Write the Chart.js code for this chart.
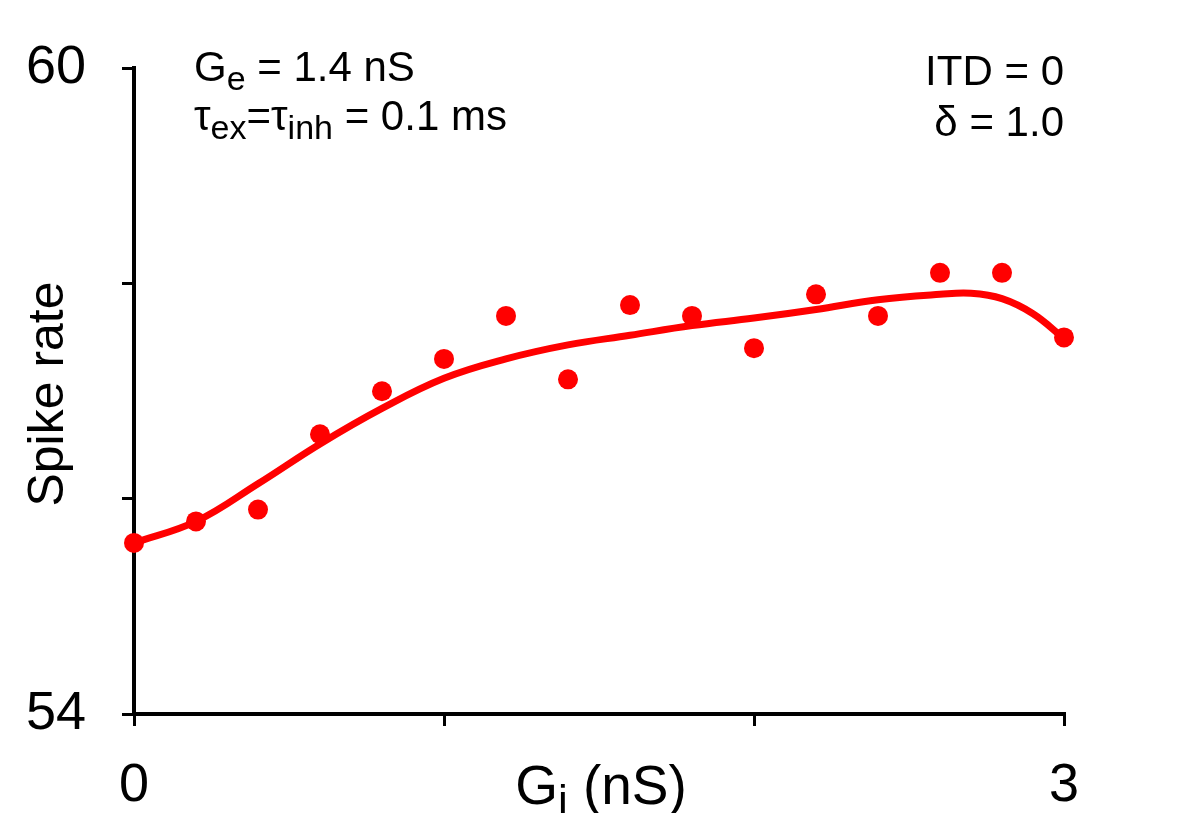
<!DOCTYPE html>
<html>
<head>
<meta charset="utf-8">
<script src="https://cdn.jsdelivr.net/npm/chart.js@4/dist/chart.umd.min.js"></script>
<style>
  html, body { margin: 0; padding: 0; background: #fff; }
  canvas { display: block; }
</style>
</head>
<body>
<canvas id="chart" width="1191" height="813"></canvas>
<script>
// simulated spike rate vs inhibitory conductance
const giValues = [0, 0.2, 0.4, 0.6, 0.8, 1.0, 1.2, 1.4, 1.6, 1.8, 2.0, 2.2, 2.4, 2.6, 2.8, 3.0];
const spikeRates = [55.59, 55.79, 55.90, 56.60, 57.00, 57.30, 57.70, 57.11, 57.80, 57.70, 57.40, 57.90, 57.70, 58.10, 58.10, 57.50];

// smooth fit curve
const fitGi = [0, 0.2, 0.4, 0.6, 0.8, 1.0, 1.2, 1.4, 1.6, 1.8, 2.0, 2.2, 2.4, 2.6, 2.7, 2.8, 2.9, 3.0];
const fitRates = [55.59, 55.79, 56.14, 56.51, 56.84, 57.12, 57.30, 57.43, 57.52, 57.61, 57.68, 57.76, 57.85, 57.90, 57.91, 57.86, 57.72, 57.49];

const xTickLabels = { 0: "0", 3: "3" };
const yTickLabels = { 54: "54", 60: "60" };

const FONT = "'Liberation Sans', Arial, sans-serif";
const RED = "#ff0000";

// draw a line of text made of [text, isSub] runs
function drawRuns(ctx, runs, x, y, size, align) {
  const subSize = Math.round(size * 0.8);
  let total = 0;
  const widths = runs.map(([t, sub]) => {
    ctx.font = (sub ? subSize : size) + "px " + FONT;
    const w = ctx.measureText(t).width;
    total += w;
    return w;
  });
  let cx = align === "right" ? x - total : align === "center" ? x - total / 2 : x;
  runs.forEach(([t, sub], i) => {
    ctx.font = (sub ? subSize : size) + "px " + FONT;
    ctx.fillText(t, cx, sub ? y + size * 0.22 : y);
    cx += widths[i];
  });
}

const labelsPlugin = {
  id: "labels",
  afterDraw(chart) {
    const ctx = chart.ctx;
    const area = chart.chartArea;
    ctx.save();
    ctx.fillStyle = "#000";
    ctx.textBaseline = "alphabetic";

    drawRuns(ctx, [["G", false], ["e", true], [" = 1.4 nS", false]], 194, 81, 42, "left");
    drawRuns(ctx, [["\u03c4", false], ["ex", true], ["=\u03c4", false], ["inh", true], [" = 0.1 ms", false]], 194, 130, 42, "left");
    drawRuns(ctx, [["ITD = 0", false]], area.right, 85, 42, "right");
    drawRuns(ctx, [["\u03b4 = 1.0", false]], area.right, 136, 42, "right");

    // x axis title
    drawRuns(ctx, [["G", false], ["i", true], [" (nS)", false]], 601, 804, 55, "center");

    // y axis title
    ctx.translate(63, 394);
    ctx.rotate(-Math.PI / 2);
    drawRuns(ctx, [["Spike rate", false]], 0, 0, 50, "center");
    ctx.restore();
  }
};

new Chart(document.getElementById("chart"), {
  type: "scatter",
  data: {
    datasets: [
      {
        label: "fit",
        data: fitGi.map((g, i) => ({ x: g, y: fitRates[i] })),
        showLine: true,
        borderColor: RED,
        borderWidth: 7,
        pointRadius: 0,
        tension: 0.4,
        borderCapStyle: "round",
        clip: false,
        order: 2
      },
      {
        label: "spike rate",
        data: giValues.map((g, i) => ({ x: g, y: spikeRates[i] })),
        showLine: false,
        pointRadius: 10,
        pointBackgroundColor: RED,
        pointBorderWidth: 0,
        clip: false,
        order: 1
      }
    ]
  },
  options: {
    responsive: false,
    animation: false,
    layout: { padding: { left: 0, top: 65, right: 127, bottom: 0 } },
    plugins: {
      legend: { display: false },
      tooltip: { enabled: false }
    },
    scales: {
      x: {
        type: "linear",
        min: 0,
        max: 3,
        afterFit: (s) => { s.height = 99; },
        border: { color: "#000", width: 4 },
        grid: { drawOnChartArea: false, color: "#000", tickLength: 12, lineWidth: 3 },
        ticks: {
          stepSize: 1,
          padding: 28,
          color: "#000",
          font: { family: FONT, size: 54 },
          maxRotation: 0,
          callback: (v) => xTickLabels[v] || ""
        }
      },
      y: {
        min: 54,
        max: 60,
        afterFit: (s) => { s.width = 134; },
        border: { color: "#000", width: 4 },
        grid: { drawOnChartArea: false, color: "#000", tickLength: 12, lineWidth: 3 },
        ticks: {
          stepSize: 2,
          padding: 36,
          color: "#000",
          font: { family: FONT, size: 54 },
          callback: (v) => yTickLabels[v] || ""
        }
      }
    }
  },
  plugins: [labelsPlugin]
});
</script>
</body>
</html>
